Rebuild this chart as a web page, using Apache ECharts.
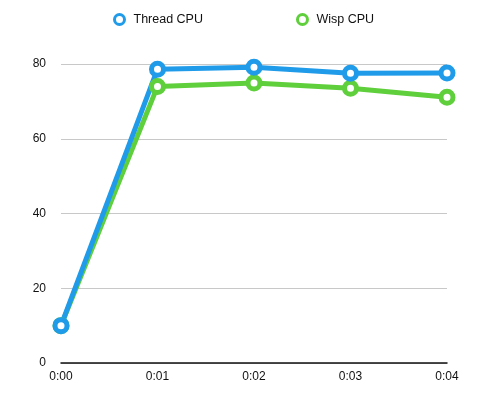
<!DOCTYPE html>
<html>
<head>
<meta charset="utf-8">
<script src="https://cdn.jsdelivr.net/npm/echarts@6/dist/echarts.min.js"></script>
<style>
  html, body { margin: 0; padding: 0; background: #fff; }
  #chart { width: 480px; height: 397px; }
</style>
</head>
<body>
<div id="chart"></div>
<script>
// data
const categories = ['0:00', '0:01', '0:02', '0:03', '0:04']
const threadCpu = [10, 78.6, 79.1, 77.5, 77.6]
const wispCpu = [10, 74.0, 74.9, 73.5, 71.1]
const yTicks = [0, 20, 40, 60, 80]

const BLUE = '#1f9bea'
const GREEN = '#5fcf3c'

const chart = echarts.init(document.getElementById('chart'))

function lineSeries(name, data, color) {
  return {
    name: name,
    type: 'line',
    data: data,
    symbol: 'circle',
    symbolSize: 12,
    showAllSymbol: true,
    lineStyle: { color: color, width: 5 },
    itemStyle: { color: '#fff', borderColor: color, borderWidth: 5 },
    emphasis: { disabled: true }
  }
}

chart.setOption({
  animation: false,
  textStyle: { fontFamily: 'Liberation Sans, Arial, sans-serif' },
  legend: {
    top: 8,
    left: 108,
    itemGap: 93,
    itemWidth: 10,
    itemHeight: 10,
    textStyle: { fontSize: 12.5, color: '#111', padding: [0, 0, 0, 4] },
    data: [
      { name: 'Thread CPU', icon: 'circle', itemStyle: { color: '#fff', borderColor: BLUE, borderWidth: 3 } },
      { name: 'Wisp CPU', icon: 'circle', itemStyle: { color: '#fff', borderColor: GREEN, borderWidth: 3 } }
    ]
  },
  grid: { left: 61, right: 33, top: 64, bottom: 34 },
  xAxis: {
    type: 'category',
    data: categories,
    boundaryGap: false,
    axisLine: { lineStyle: { color: '#111', width: 1.5 } },
    axisTick: { show: false },
    axisLabel: { color: '#111', fontSize: 12, margin: 8 }
  },
  yAxis: {
    type: 'value',
    min: yTicks[0],
    max: yTicks[yTicks.length - 1],
    interval: 20,
    axisLine: { show: false },
    axisTick: { show: false },
    axisLabel: { color: '#111', fontSize: 12, margin: 15 },
    splitLine: { lineStyle: { color: '#c8c8c8', width: 1 } }
  },
  series: [
    lineSeries('Wisp CPU', wispCpu, GREEN),
    lineSeries('Thread CPU', threadCpu, BLUE)
  ]
})
</script>
</body>
</html>
